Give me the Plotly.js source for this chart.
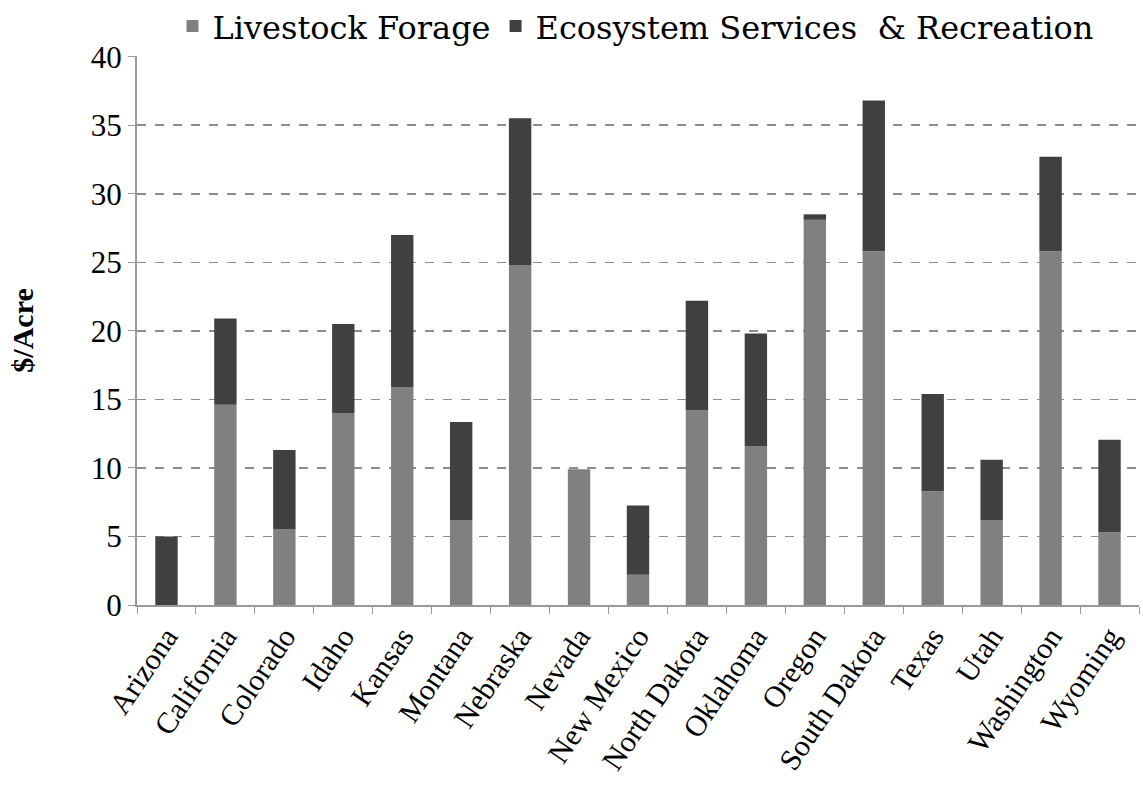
<!DOCTYPE html>
<html>
<head>
<meta charset="utf-8">
<script src="https://cdn.plot.ly/plotly-3.0.1.min.js"></script>
<style>html,body{margin:0;padding:0;background:#fff;}#chart{width:1143px;height:797px;}</style>
</head>
<body>
<div id="chart"></div>
<script>
const states = ["Arizona","California","Colorado","Idaho","Kansas","Montana","Nebraska","Nevada","New Mexico","North Dakota","Oklahoma","Oregon","South Dakota","Texas","Utah","Washington","Wyoming"];
const livestockForage = [0, 14.6, 5.5, 14.0, 15.9, 6.2, 24.8, 9.9, 2.2, 14.2, 11.6, 28.1, 25.8, 8.3, 6.2, 25.8, 5.3];
const ecosystemServices = [5.0, 6.3, 5.8, 6.5, 11.1, 7.15, 10.7, -0.2, 5.05, 8.0, 8.2, 0.4, 11.0, 7.1, 4.4, 6.9, 6.75];
const yTicks = [0,5,10,15,20,25,30,35,40];

const serif = "Liberation Serif";
const traces = [
  {type:'bar', name:'Livestock Forage', x:states, y:livestockForage, marker:{color:'#808080'}},
  {type:'bar', name:'Ecosystem Services  & Recreation', x:states, y:ecosystemServices, marker:{color:'#404040'}}
];
const layout = {
  width:1143, height:797,
  margin:{l:137, r:4, t:56, b:192, autoexpand:false},
  barmode:'relative',
  bargap:0.62,
  paper_bgcolor:'#fff', plot_bgcolor:'#fff',
  font:{family:serif, color:'#000'},
  showlegend:true,
  legend:{orientation:'h', xref:'container', yref:'container', x:0.556, xanchor:'center', y:0.967, yanchor:'middle', font:{family:'DejaVu Serif', size:32, color:'#000'}, itemwidth:30, traceorder:'normal', bgcolor:'rgba(0,0,0,0)'},
  xaxis:{type:'category', tickangle:-56, tickfont:{family:serif, size:30, color:'#000'}, ticks:'outside', tickson:'boundaries', ticklen:7, tickcolor:'#999', showline:true, linecolor:'#999', linewidth:2, showgrid:false, zeroline:false, fixedrange:true},
  yaxis:{range:[0,40.05], tickvals:yTicks, ticktext:yTicks.map(String), tickangle:-0.01, tickfont:{family:serif, size:31, color:'#000'}, ticks:'outside', ticklen:7, tickcolor:'#999', showline:true, linecolor:'#999', linewidth:2, showgrid:true, gridcolor:'#8c8c8c', griddash:'dash', gridwidth:1.5, zeroline:false, title:{text:'<b>$/Acre</b>', font:{family:serif, size:30, color:'#000'}, standoff:48}}
};
Plotly.newPlot('chart', traces, layout, {displayModeBar:false, staticPlot:true});
</script>
</body>
</html>
